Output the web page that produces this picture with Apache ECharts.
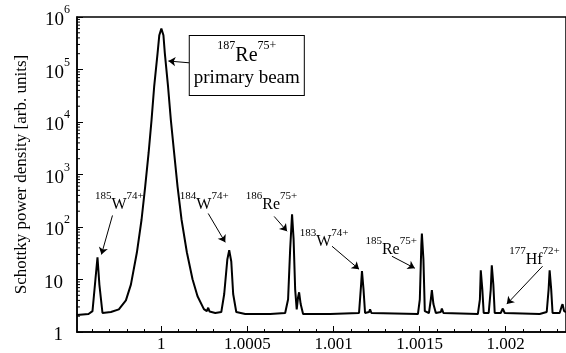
<!DOCTYPE html>
<html><head><meta charset="utf-8">
<script src="https://cdn.jsdelivr.net/npm/echarts@6/dist/echarts.min.js"></script>
<style>html,body{margin:0;padding:0;background:#fff}#c{width:566px;height:353px}</style>
</head><body><div id="c"></div>
<script>
// Revolution frequency (relative) and Schottky power density
var freq = [0.999509,0.999577,0.9996,0.999617,0.999629,0.99964,0.999658,0.999707,0.999753,0.999794,0.999823,0.999858,0.999885,0.999906,0.999926,0.999943,0.999958,0.999978,0.999988,1.0,1.000012,1.00002,1.000039,1.000055,1.000074,1.000094,1.000117,1.000148,1.000181,1.00021,1.000247,1.000264,1.000272,1.00028,1.000313,1.000348,1.000365,1.000383,1.000394,1.000406,1.000417,1.000435,1.000487,1.000632,1.000719,1.000736,1.000748,1.000759,1.000768,1.000777,1.000786,1.000794,1.0008,1.000809,1.000823,1.00098,1.001148,1.00116,1.001165,1.001174,1.001183,1.001206,1.001212,1.00122,1.00149,1.001501,1.00151,1.001513,1.001522,1.00153,1.001554,1.001565,1.001571,1.00158,1.001594,1.001623,1.001629,1.001638,1.001838,1.00185,1.001855,1.001864,1.001872,1.001901,1.001913,1.001919,1.001928,1.001936,1.001971,1.001983,1.001994,1.002197,1.002238,1.002249,1.002255,1.002264,1.002272,1.002313,1.002325,1.00233,1.002339,1.00235];
var power = [2.1,2.2,2.5,10,26.5,8,2.3,2.4,2.7,4,8,33,139,590,2600,11000,46500,205000,450000,600000,450000,205000,46500,11000,2600,590,139,33,10.1,4.8,2.73,2.5,2.9,2.45,2.3,2.4,5.3,24,36,22,5.3,2.4,2.2,2.2,2.3,4.2,38,174,58,6.5,2.7,4.6,5.7,3.4,2.2,2.2,2.3,8,14.4,6.5,2.3,2.4,2.7,2.3,2.2,4.2,47,75,24,2.5,2.3,4.2,6.3,3.4,2.3,2.4,2.8,2.3,2.2,4.2,15,6.5,2.3,2.3,6.5,18.7,8,2.3,2.3,2.8,2.3,2.2,2.4,6.5,15,6.5,2.3,2.3,3.1,3.4,2.5,2.4];
var xTicks = [1, 1.0005, 1.001, 1.0015, 1.002];
var xTickLabels = ['1','1.0005','1.001','1.0015','1.002'];
var xMinorTicks = [0.9996,0.9997,0.9998,0.9999,1.0001,1.0002,1.0003,1.0004,1.0006,1.0007,1.0008,1.0009,1.0011,1.0012,1.0013,1.0014,1.0016,1.0017,1.0018,1.0019,1.0021,1.0022,1.0023];
var yMin = 1, yMax = 1e6, xMin = 0.99951, xMax = 1.00235;

// Annotations: mass, element, charge, anchor (left-middle) in data coords
var annIso = ['185','184','186','183','185','177'];
var annEl = ['W','W','Re','W','Re','Hf'];
var annCh = ['74+','74+','75+','74+','75+','72+'];
var annX = [0.999617,1.00011,1.000493,1.000806,1.001188,1.002023];
var annY = [293,293,293,58,41,26.5];
// Arrows: start and end in data coordinates
var arrX1 = [0.999716,1.000272,1.000655,1.000991,1.001339,1.002214,1.000174];
var arrY1 = [166,181,159,43,27.7,17.9,133000];
var arrX2 = [0.999652,1.000371,1.00073,1.001148,1.001472,1.002006,1.000041];
var arrY2 = [30,51,83,15.7,16.4,3.4,145000];

var serif = 'Liberation Serif';
var richAnn = {
  iso:{fontSize:11,fontFamily:serif,color:'#000',verticalAlign:'top',lineHeight:6},
  el:{fontSize:16,fontFamily:serif,color:'#000',verticalAlign:'bottom',lineHeight:22},
  ch:{fontSize:11,fontFamily:serif,color:'#000',verticalAlign:'top',lineHeight:6},
  iso2:{fontSize:12,fontFamily:serif,color:'#000',verticalAlign:'top',lineHeight:7},
  el2:{fontSize:20,fontFamily:serif,color:'#000',verticalAlign:'bottom',lineHeight:26},
  t:{fontSize:19,fontFamily:serif,color:'#000',lineHeight:24}
};
var mpData = [];
for (var i=0;i<annEl.length;i++){
  mpData.push({coord:[annX[i],annY[i]],symbol:'circle',symbolSize:1,itemStyle:{color:'rgba(0,0,0,0)'},
    label:{show:true,position:[0,0],align:'left',verticalAlign:'middle',
      formatter:'{iso|'+annIso[i]+'}{el|'+annEl[i]+'}{ch|'+annCh[i]+'}',rich:richAnn}});
}
mpData.push({coord:[1.000499,116500],symbol:'circle',symbolSize:1,itemStyle:{color:'rgba(0,0,0,0)'},
  label:{show:true,position:[0,0],align:'center',verticalAlign:'middle',
    backgroundColor:'#fff',borderColor:'#000',borderWidth:1,padding:[4,4,5,4],
    formatter:'{iso2|187}{el2|Re}{iso2|75+}\n{t|primary beam}',rich:richAnn}});
var mlData = [];
for (var j=0;j<arrX1.length;j++){
  mlData.push([{coord:[arrX1[j],arrY1[j]]},{coord:[arrX2[j],arrY2[j]]}]);
}
var yMinor = [];
for (var e=0;e<6;e++){ for (var k=2;k<10;k++){ yMinor.push([xMin,k*Math.pow(10,e)]); } }

var chart = echarts.init(document.getElementById('c'),null,{renderer:'canvas'});
chart.setOption({
  animation:false,
  backgroundColor:'#fff',
  grid:{left:77,right:0,top:17,bottom:20,show:true,borderColor:'#000',borderWidth:1.5,backgroundColor:'transparent'},
  xAxis:[{type:'value',min:xMin,max:xMax,
    axisLine:{lineStyle:{color:'#000',width:1.5}},
    axisTick:{inside:true,length:6,lineStyle:{color:'#000'},customValues:xTicks},
    splitLine:{show:false},
    axisLabel:{margin:4,color:'#000',fontFamily:serif,fontSize:17,customValues:xTicks,
      formatter:function(v){var idx=-1; for(var q=0;q<xTicks.length;q++){if(Math.abs(xTicks[q]-v)<1e-7) idx=q;} return idx>=0?xTickLabels[idx]:'';}}
  },{type:'value',min:xMin,max:xMax,position:'bottom',
    axisLine:{show:false},
    axisTick:{inside:true,length:3,lineStyle:{color:'#000'},customValues:xMinorTicks},
    splitLine:{show:false},
    axisLabel:{show:false,customValues:xMinorTicks}
  }],
  yAxis:{type:'log',logBase:10,min:yMin,max:yMax,
    name:'Schottky power density [arb. units]',nameLocation:'middle',nameGap:47,
    nameTextStyle:{fontFamily:serif,fontSize:17,color:'#000'},
    axisLine:{lineStyle:{color:'#000',width:1.5}},
    axisTick:{inside:true,length:6,lineStyle:{color:'#000'}},
    splitLine:{show:false},
    axisLabel:{margin:7,color:'#000',
      formatter:function(v){var ex=Math.round(Math.log10(v)); if(ex===0) return '{b|1}{p|}'; if(ex===1) return '{b|10}{p|}'; return '{b|10}{s|'+ex+'}';},
      rich:{b:{fontSize:19,fontFamily:serif,color:'#000',lineHeight:26,verticalAlign:'bottom'},
            s:{fontSize:12,fontFamily:serif,color:'#000',lineHeight:12,verticalAlign:'top'},
            p:{width:7}}}
  },
  series:[
    {type:'line',data:freq.map(function(f,i){return [f,power[i]];}),symbol:'none',
     lineStyle:{color:'#000',width:2},clip:true,
     markPoint:{data:mpData,silent:true,animation:false},
     markLine:{data:mlData,symbol:['none','arrow'],symbolSize:7,silent:true,animation:false,
       lineStyle:{color:'#000',width:1,type:'solid'},label:{show:false}}
    },
    {type:'custom',data:yMinor,silent:true,clip:false,
     renderItem:function(params,api){var p=api.coord([api.value(0),api.value(1)]);
       return {type:'line',shape:{x1:p[0],y1:p[1],x2:p[0]+3,y2:p[1]},style:{stroke:'#000',lineWidth:1}};}}
  ]
});
</script></body></html>
